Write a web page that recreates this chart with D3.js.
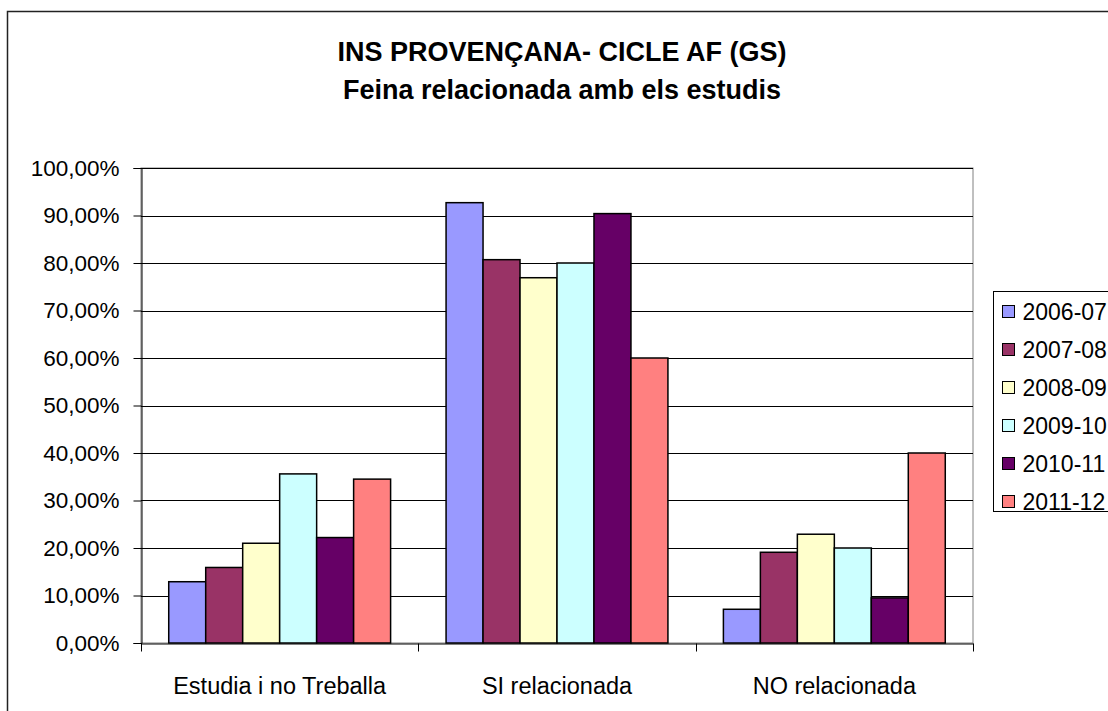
<!DOCTYPE html>
<html>
<head>
<meta charset="utf-8">
<script src="https://cdn.jsdelivr.net/npm/d3@7"></script>
<style>
  body { margin: 0; background: #fff; }
  svg { display: block; font-family: Arial, "Liberation Sans", sans-serif; }
</style>
</head>
<body>
<svg id="chart"></svg>
<script>
const categories = ['Estudia i no Treballa', 'SI relacionada', 'NO relacionada'];
const seriesNames = ['2006-07', '2007-08', '2008-09', '2009-10', '2010-11', '2011-12'];
const seriesColors = ['#9999FF', '#993366', '#FFFFCC', '#CCFFFF', '#660066', '#FF8080'];
// one array per curs, values per category (percent)
const s0607 = [12.9, 92.7, 7.1];
const s0708 = [15.9, 80.7, 19.1];
const s0809 = [21.0, 76.9, 22.9];
const s0910 = [35.6, 80.0, 20.0];
const s1011 = [22.2, 90.4, 9.5];
const s1112 = [34.5, 60.0, 40.0];
const yTicks = [0, 10, 20, 30, 40, 50, 60, 70, 80, 90, 100];
const titleLines = ['INS PROVENÇANA- CICLE AF (GS)', 'Feina relacionada amb els estudis'];

const seriesValues = [s0607, s0708, s0809, s0910, s1011, s1112];

const width = 1108;
const height = 711;
const marginLeft = 141;
const marginTop = 168;
const plotRight = 973;
const plotBottom = 643;

const svg = d3.select('#chart')
  .attr('width', width)
  .attr('height', height);

// outer chart border (runs off the canvas on the right and bottom)
svg.append('rect')
  .attr('x', 7.5).attr('y', 11.5)
  .attr('width', 1112).attr('height', 720)
  .attr('fill', '#fff')
  .attr('stroke', '#222')
  .attr('stroke-width', 1.5);

// title
svg.append('text')
  .attr('text-anchor', 'middle')
  .attr('font-weight', 'bold')
  .attr('font-size', 27)
  .attr('fill', '#000')
  .selectAll('tspan')
  .data(titleLines)
  .join('tspan')
  .attr('x', 562)
  .attr('y', (d, i) => 61 + i * 38)
  .text(d => d);

const x = d3.scaleBand()
  .domain(categories)
  .range([marginLeft, plotRight])
  .padding(0);

const xInner = d3.scaleBand()
  .domain(seriesNames)
  .range([0, x.bandwidth()])
  .paddingInner(0)
  .paddingOuter(0.75);

const y = d3.scaleLinear()
  .domain([0, 100])
  .range([plotBottom, marginTop]);

// plot area border
svg.append('rect')
  .attr('x', marginLeft).attr('y', marginTop)
  .attr('width', plotRight - marginLeft)
  .attr('height', plotBottom - marginTop)
  .attr('fill', 'none')
  .attr('stroke', '#808080')
  .attr('stroke-width', 1);

// gridlines
svg.append('g')
  .selectAll('line')
  .data(yTicks.slice(1))
  .join('line')
  .attr('x1', marginLeft).attr('x2', plotRight)
  .attr('y1', d => Math.round(y(d)) + 0.5)
  .attr('y2', d => Math.round(y(d)) + 0.5)
  .attr('stroke', '#000')
  .attr('stroke-width', 1);

// bars
const groups = svg.append('g')
  .selectAll('g')
  .data(seriesNames)
  .join('g')
  .attr('fill', (d, i) => seriesColors[i]);

groups.selectAll('rect')
  .data((name, si) => categories.map((c, ci) => ({ c, name, v: seriesValues[si][ci] })))
  .join('rect')
  .attr('x', d => x(d.c) + xInner(d.name))
  .attr('y', d => y(d.v))
  .attr('width', xInner.bandwidth())
  .attr('height', d => plotBottom - y(d.v))
  .attr('stroke', '#000')
  .attr('stroke-width', 1.5);

// y axis
const yAxis = svg.append('g')
  .attr('transform', `translate(${marginLeft + 0.5},0)`)
  .call(d3.axisLeft(y)
    .tickValues(yTicks)
    .tickSize(8)
    .tickPadding(14)
    .tickFormat(d => d.toFixed(2).replace('.', ',') + '%'));
yAxis.select('.domain').attr('stroke', '#000');
yAxis.selectAll('.tick line').attr('stroke', '#000');
yAxis.selectAll('.tick text')
  .attr('font-size', 22.5)
  .attr('font-family', 'Arial, "Liberation Sans", sans-serif')
  .attr('fill', '#000');

// x axis: line, ticks between categories, labels at centres
const xAxis = svg.append('g')
  .attr('transform', `translate(0,${plotBottom + 0.5})`)
  .call(d3.axisBottom(x).tickSize(0).tickPadding(34));
xAxis.select('.domain').attr('stroke', '#000');
xAxis.selectAll('.tick text')
  .attr('font-size', 23.5)
  .attr('font-family', 'Arial, "Liberation Sans", sans-serif')
  .attr('fill', '#000');

const boundaries = categories.map(c => x(c)).concat([x(categories[categories.length - 1]) + x.bandwidth()]);
xAxis.append('g')
  .selectAll('line')
  .data(boundaries)
  .join('line')
  .attr('x1', d => Math.round(d) + 0.5).attr('x2', d => Math.round(d) + 0.5)
  .attr('y1', 0).attr('y2', 8)
  .attr('stroke', '#000');

// legend
const legend = svg.append('g').attr('transform', 'translate(993.5,291.5)');
legend.append('rect')
  .attr('width', 130).attr('height', 220)
  .attr('fill', '#fff')
  .attr('stroke', '#000')
  .attr('stroke-width', 1);

const items = legend.selectAll('g.item')
  .data(seriesNames)
  .join('g')
  .attr('class', 'item')
  .attr('transform', (d, i) => `translate(0,${20 + i * 38})`);

items.append('rect')
  .attr('x', 9).attr('y', -6)
  .attr('width', 12).attr('height', 12)
  .attr('fill', (d, i) => seriesColors[i])
  .attr('stroke', '#000')
  .attr('stroke-width', 1);

items.append('text')
  .attr('x', 29)
  .attr('dy', '0.36em')
  .attr('font-size', 23)
  .attr('fill', '#000')
  .text(d => d);
</script>
</body>
</html>
